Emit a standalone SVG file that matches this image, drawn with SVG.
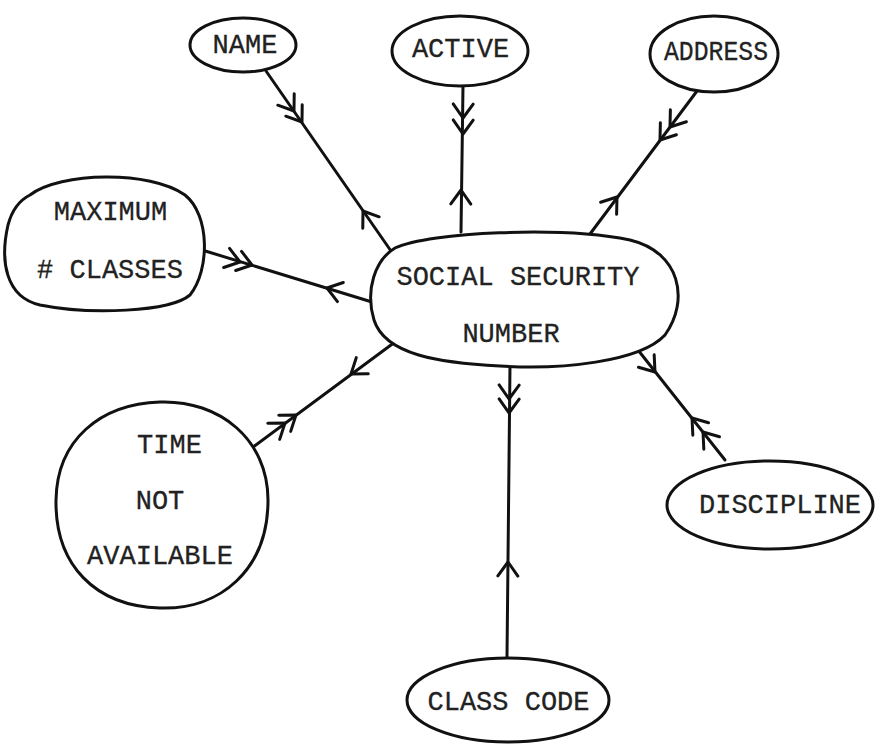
<svg xmlns="http://www.w3.org/2000/svg" width="881" height="745" viewBox="0 0 881 745">
<style>
.node{fill:#fff;stroke:#111;stroke-width:3;stroke-linejoin:round}
.ln{fill:none;stroke:#111;stroke-width:3;stroke-linecap:round}
.lbl{font-family:"Liberation Mono","Courier New",monospace;font-size:27px;fill:#222;stroke:#222;stroke-width:0.3;text-anchor:middle}
</style>
<defs>
<path id="chev" d="M -14,-10 L 0,0 L -14,10" fill="none" stroke="#111" stroke-width="3" stroke-linecap="round" stroke-linejoin="round"/>
</defs>
<rect width="881" height="745" fill="#fff"/>
<g id="connectors">
<path class="ln" d="M 266,71 L 391,251"/>
<use href="#chev" transform="translate(294,111) rotate(55.2)"/>
<use href="#chev" transform="translate(302,122) rotate(55.2)"/>
<use href="#chev" transform="translate(363,211) rotate(235.2)"/>
<path class="ln" d="M 463,86 L 461,232"/>
<use href="#chev" transform="translate(463,118) rotate(90.8)"/>
<use href="#chev" transform="translate(463,134) rotate(90.8)"/>
<use href="#chev" transform="translate(461,190) rotate(270.8)"/>
<path class="ln" d="M 700,87 L 587,238"/>
<use href="#chev" transform="translate(670,127) rotate(126.8)"/>
<use href="#chev" transform="translate(660,140) rotate(126.8)"/>
<use href="#chev" transform="translate(617,197) rotate(-53.2)"/>
<path class="ln" d="M 202,250 L 372,302"/>
<use href="#chev" transform="translate(240,262) rotate(17)"/>
<use href="#chev" transform="translate(252,265) rotate(17)"/>
<use href="#chev" transform="translate(327,288) rotate(197)"/>
<path class="ln" d="M 253,447 L 395,342"/>
<use href="#chev" transform="translate(285,423) rotate(-36.5)"/>
<use href="#chev" transform="translate(296,415) rotate(-36.5)"/>
<use href="#chev" transform="translate(351,374) rotate(143.5)"/>
<path class="ln" d="M 510,365 L 507,657"/>
<use href="#chev" transform="translate(509,399) rotate(90.6)"/>
<use href="#chev" transform="translate(509,413) rotate(90.6)"/>
<use href="#chev" transform="translate(508,562) rotate(270.6)"/>
<path class="ln" d="M 638,350 L 725,460"/>
<use href="#chev" transform="translate(655,372) rotate(51.7)"/>
<use href="#chev" transform="translate(692,418) rotate(231.7)"/>
<use href="#chev" transform="translate(703,432) rotate(231.7)"/>
</g>
<g id="name">
<ellipse class="node" cx="243" cy="45" rx="53" ry="27"/>
<text class="lbl" x="245" y="53">NAME</text>
</g>
<g id="active">
<ellipse class="node" cx="460" cy="51" rx="68" ry="35"/>
<text class="lbl" x="460.5" y="57">ACTIVE</text>
</g>
<g id="address">
<ellipse class="node" cx="714" cy="54" rx="64" ry="38"/>
<text class="lbl" x="716" y="60" textLength="104" lengthAdjust="spacingAndGlyphs">ADDRESS</text>
</g>
<g id="maximum-classes">
<path class="node" d="M 30,195 C 60,172 150,170 185,195 C 210,215 210,270 190,295 C 170,312 90,315 40,305 C 5,297 0,260 8,225 C 12,210 20,200 30,195 Z"/>
<text class="lbl" x="110.5" y="220">MAXIMUM</text>
<text class="lbl" x="110" y="278"># CLASSES</text>
</g>
<g id="ssn">
<path class="node" d="M 395,248 C 430,232 560,226 630,240 C 680,252 690,300 665,335 C 640,362 560,370 500,366 C 440,363 385,355 374,320 C 365,290 375,260 395,248 Z"/>
<text class="lbl" x="518" y="285">SOCIAL SECURITY</text>
<text class="lbl" x="511" y="342">NUMBER</text>
</g>
<g id="time-not-available">
<path class="node" d="M 160,402 C 220,400 268,440 268,500 C 268,570 220,610 160,608 C 95,606 55,565 56,500 C 57,440 100,404 160,402 Z"/>
<text class="lbl" x="169.5" y="453">TIME</text>
<text class="lbl" x="160" y="509">NOT</text>
<text class="lbl" x="160" y="564">AVAILABLE</text>
</g>
<g id="discipline">
<ellipse class="node" cx="770" cy="505" rx="103" ry="44"/>
<text class="lbl" x="780" y="513">DISCIPLINE</text>
</g>
<g id="class-code">
<ellipse class="node" cx="508" cy="700" rx="101" ry="42"/>
<text class="lbl" x="508.5" y="710">CLASS CODE</text>
</g>
</svg>
